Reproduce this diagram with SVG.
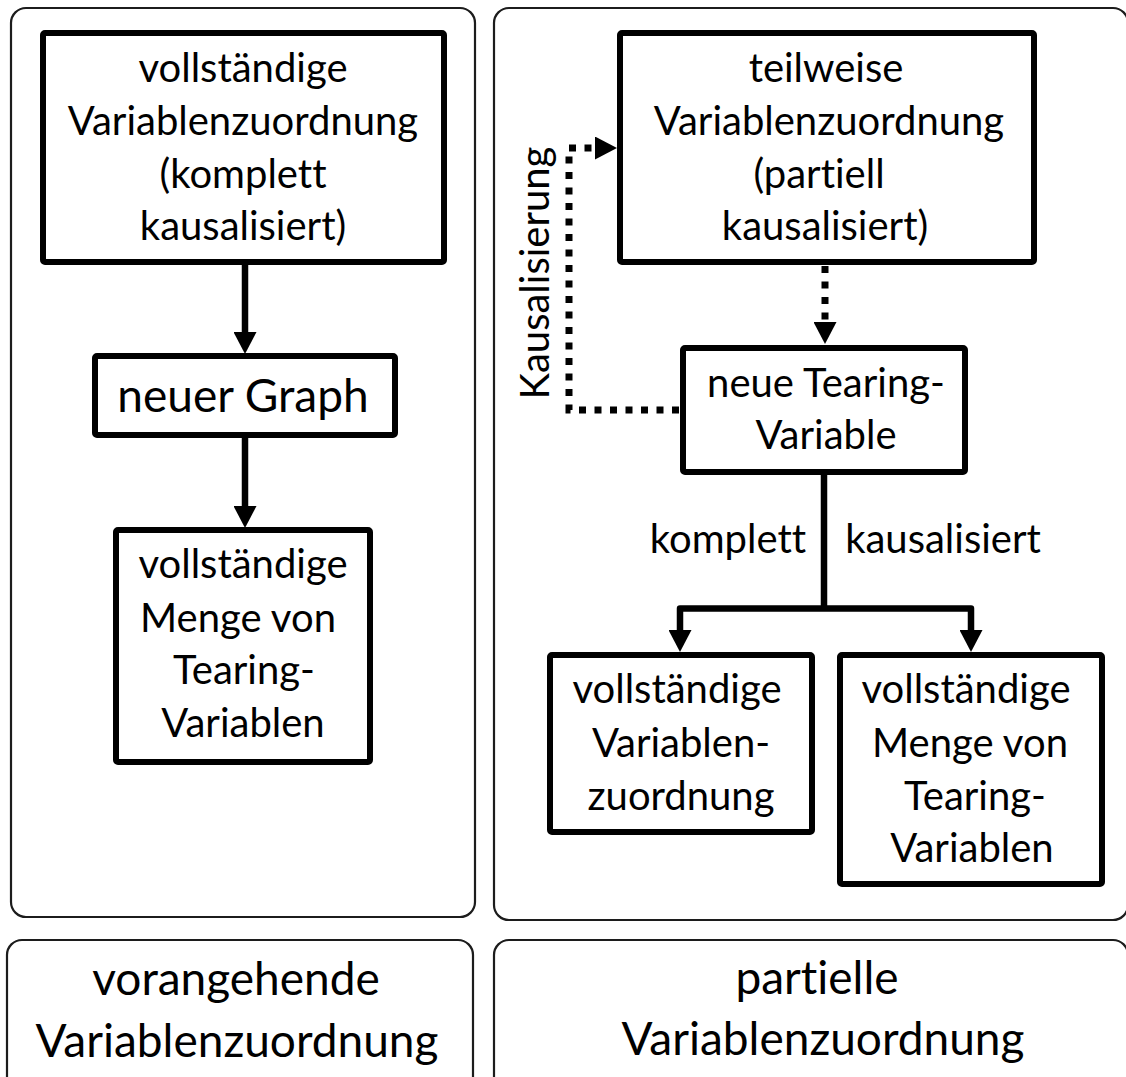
<svg xmlns="http://www.w3.org/2000/svg" width="1126" height="1077" viewBox="0 0 1126 1077">
  <style>
    .panel { fill: #ffffff; stroke: #1c1c1c; stroke-width: 2.2; }
    .box { fill: #ffffff; stroke: #000000; stroke-width: 6; }
    .lbl { font-family: Lato, "Open Sans", "Liberation Sans", sans-serif; font-size: 40px; fill: #000000; text-anchor: middle;
           font-variant-ligatures: none; font-feature-settings: "liga" 0, "clig" 0, "dlig" 0; }
    .big { font-size: 46px; }
    .solid { fill: none; stroke: #000000; stroke-width: 6.5; stroke-linejoin: round; }
    .dotted { fill: none; stroke: #000000; stroke-width: 7; stroke-dasharray: 7 8.5; }
  </style>
  <defs>
    <marker id="head" viewBox="0 0 22 23" refX="0" refY="11.5" markerWidth="22" markerHeight="23" markerUnits="userSpaceOnUse" orient="auto">
      <path d="M0,0 L22,11.5 L0,23 Z" fill="#000000" stroke="none"/>
    </marker>
  </defs>

  <rect width="1126" height="1077" fill="#ffffff"/>

  <!-- column frames -->
  <g id="panels">
    <rect id="panel-left" class="panel" x="11" y="8" width="464" height="909" rx="15"/>
    <rect id="panel-right" class="panel" x="494" y="8" width="634" height="912" rx="15"/>
  </g>

  <!-- column captions -->
  <g id="caption-left">
    <rect class="panel" x="7" y="940" width="466" height="160" rx="15"/>
    <text class="lbl big" x="236" y="995">vorangehende</text>
    <text class="lbl big" x="237" y="1057">Variablenzuordnung</text>
  </g>
  <g id="caption-right">
    <rect class="panel" x="494" y="940" width="634" height="160" rx="15"/>
    <text class="lbl big" x="817" y="994">partielle</text>
    <text class="lbl big" x="823" y="1055">Variablenzuordnung</text>
  </g>

  <!-- connectors -->
  <g id="connectors">
    <path class="solid" d="M245,265 V332" marker-end="url(#head)"/>
    <path class="solid" d="M245,438 V506" marker-end="url(#head)"/>
    <path class="dotted" d="M825,266 V322" marker-end="url(#head)"/>
    <path class="dotted" d="M679,410 H569 V148 H595" marker-end="url(#head)"/>
    <path class="solid" d="M824,474 V608.5"/>
    <path class="solid" d="M824,608.5 H680 V630" marker-end="url(#head)"/>
    <path class="solid" d="M824,608.5 H971 V630" marker-end="url(#head)"/>
    <text class="lbl" x="728" y="553">komplett</text>
    <text class="lbl" x="943" y="553">kausalisiert</text>
    <text class="lbl" transform="translate(549,273) rotate(-90)">Kausalisierung</text>
  </g>

  <!-- left column nodes -->
  <g id="node-full-assignment">
    <rect class="box" x="43" y="33" width="401" height="229" rx="2"/>
    <text class="lbl" x="243" y="82">vollständige</text>
    <text class="lbl" x="243" y="135">Variablenzuordnung</text>
    <text class="lbl" x="243" y="188">(komplett</text>
    <text class="lbl" x="243" y="240">kausalisiert)</text>
  </g>
  <g id="node-new-graph">
    <rect class="box" x="95" y="356" width="300" height="79" rx="2"/>
    <text class="lbl big" x="243" y="412">neuer Graph</text>
  </g>
  <g id="node-full-tearing-set-left">
    <rect class="box" x="116" y="530" width="254" height="232" rx="2"/>
    <text class="lbl" x="243" y="578">vollständige</text>
    <text class="lbl" x="238" y="632">Menge von</text>
    <text class="lbl" x="244" y="684">Tearing-</text>
    <text class="lbl" x="243" y="737">Variablen</text>
  </g>

  <!-- right column nodes -->
  <g id="node-partial-assignment">
    <rect class="box" x="620" y="33" width="414" height="229" rx="2"/>
    <text class="lbl" x="826" y="82">teilweise</text>
    <text class="lbl" x="829" y="135">Variablenzuordnung</text>
    <text class="lbl" x="819" y="188">(partiell</text>
    <text class="lbl" x="825" y="240">kausalisiert)</text>
  </g>
  <g id="node-new-tearing-variable">
    <rect class="box" x="683" y="348" width="282" height="124" rx="2"/>
    <text class="lbl" x="826" y="397">neue Tearing-</text>
    <text class="lbl" x="826" y="449">Variable</text>
  </g>
  <g id="node-full-assignment-right">
    <rect class="box" x="550" y="655" width="262" height="177" rx="2"/>
    <text class="lbl" x="677" y="703">vollständige</text>
    <text class="lbl" x="681" y="757">Variablen-</text>
    <text class="lbl" x="681" y="810">zuordnung</text>
  </g>
  <g id="node-full-tearing-set-right">
    <rect class="box" x="840" y="655" width="262" height="229" rx="2"/>
    <text class="lbl" x="966" y="703">vollständige</text>
    <text class="lbl" x="970" y="757">Menge von</text>
    <text class="lbl" x="975" y="810">Tearing-</text>
    <text class="lbl" x="972" y="862">Variablen</text>
  </g>
</svg>
